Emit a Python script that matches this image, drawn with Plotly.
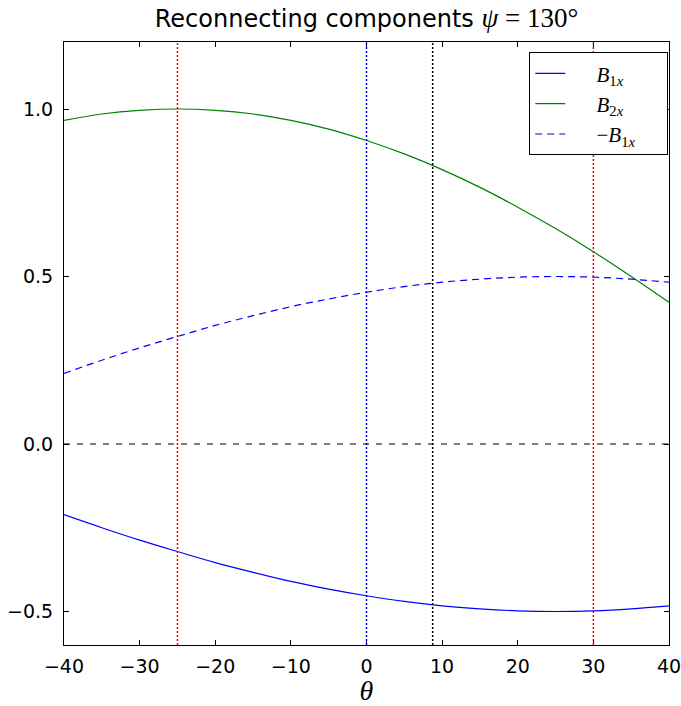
import plotly.graph_objects as go

theta = [-40, -35, -30, -25, -20, -15, -10, -5, 0, 5, 10, 15, 20, 25, 30, 35, 40]
b1x = [-0.211, -0.250, -0.287, -0.321, -0.354, -0.383, -0.410, -0.433, -0.453,
       -0.470, -0.483, -0.492, -0.498, -0.500, -0.498, -0.492, -0.483]
b2x = [0.966, 0.985, 0.996, 1.000, 0.996, 0.985, 0.966, 0.940, 0.906,
       0.866, 0.819, 0.766, 0.707, 0.643, 0.574, 0.500, 0.423]
neg_b1x = [0.211, 0.250, 0.287, 0.321, 0.354, 0.383, 0.410, 0.433, 0.453,
           0.470, 0.483, 0.492, 0.498, 0.500, 0.498, 0.492, 0.483]

vlines_x = [-25, 30, 0, 8.75]
vlines_color = ["#ff0000", "#ff0000", "#0000ff", "#000000"]
hline_y = 0.0

x_ticks = [-40, -30, -20, -10, 0, 10, 20, 30, 40]
y_ticks = [-0.5, 0.0, 0.5, 1.0]

MATH = "Liberation Serif"
PAD = "&nbsp;" * 5
TAIL = "&nbsp;" * 5

fig = go.Figure()
fig.add_trace(go.Scatter(x=theta, y=b1x, mode="lines", line=dict(color="#0000ff", width=1.2, shape="spline"),
                         name=f"{PAD}<i>B</i><sub>1<i>x</i></sub>{TAIL}"))
fig.add_trace(go.Scatter(x=theta, y=b2x, mode="lines", line=dict(color="#008000", width=1.2, shape="spline"),
                         name=f"{PAD}<i>B</i><sub>2<i>x</i></sub>{TAIL}"))
fig.add_trace(go.Scatter(x=theta, y=neg_b1x, mode="lines",
                         line=dict(color="#0000ff", width=1.2, shape="spline", dash="7px,5px"),
                         name=f"{PAD}−<i>B</i><sub>1<i>x</i></sub>{TAIL}"))

for xv, c in zip(vlines_x, vlines_color):
    fig.add_shape(type="line", xref="x", yref="paper", x0=xv, x1=xv, y0=0, y1=1,
                  line=dict(color=c, width=1.5, dash="2px,2px"), layer="above")
fig.add_shape(type="line", xref="paper", yref="y", x0=0, x1=1, y0=hline_y, y1=hline_y,
              line=dict(color="#000000", width=1.2, dash="6px,7px"), layer="above")

axis_common = dict(showline=True, linecolor="#000000", linewidth=1, mirror="ticks",
                   ticks="inside", ticklen=5, tickwidth=1, tickcolor="#000000",
                   showgrid=False, zeroline=False, automargin=False,
                   ticklabeloverflow="allow",
                   tickfont=dict(family="DejaVu Sans", size=19, color="#000000"))

fig.update_layout(
    width=681, height=706,
    margin=dict(l=64, r=12, t=42, b=61, autoexpand=False),
    paper_bgcolor="white", plot_bgcolor="white",
    title=dict(text=f"Reconnecting components <span style='font-family:{MATH};font-size:27px'><i>ψ</i> = 130°</span>",
               x=0.5, xref="paper", xanchor="center", y=0.974, yref="container", yanchor="middle",
               font=dict(family="DejaVu Sans", size=24, color="#000000")),
    xaxis=dict(range=[-40, 40], tickvals=x_ticks, **axis_common,
               title=dict(text=f"<span style='font-family:{MATH}'><i>θ</i></span>",
                          font=dict(size=28, color="#000000"), standoff=4)),
    yaxis=dict(range=[-0.6, 1.2], tickvals=y_ticks, tickformat=".1f", **axis_common),
    showlegend=True,
    legend=dict(x=0.769, y=0.983, xanchor="left", yanchor="top",
                bordercolor="#000000", borderwidth=1, bgcolor="white",
                font=dict(family=MATH, size=21, color="#000000"),
                tracegroupgap=0),
)
fig.update_xaxes(ticklabelstandoff=4)
fig.update_yaxes(ticklabelstandoff=6)

fig.write_html("out.html", config={"displayModeBar": False},
               post_script="document.body.style.margin='0';document.body.style.overflow='hidden';")
